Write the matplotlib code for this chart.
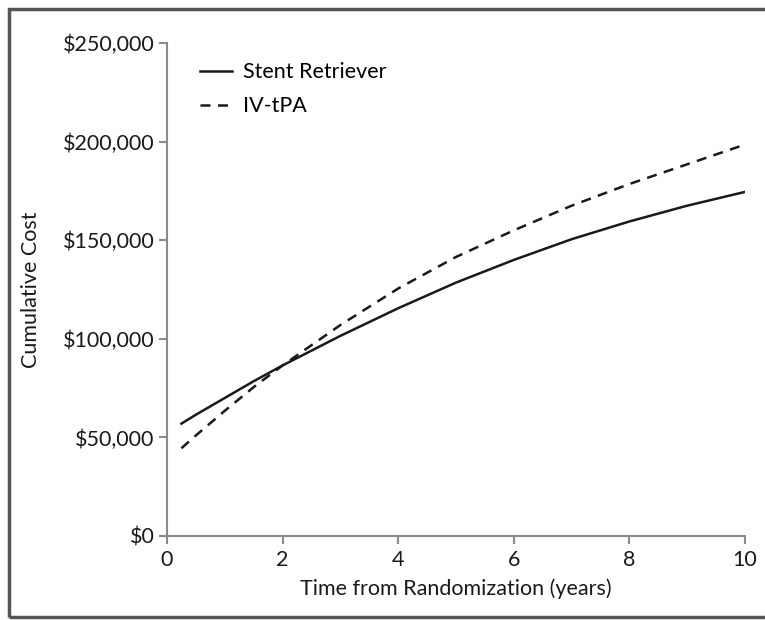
import numpy as np
import matplotlib as mpl
mpl.use('Agg')
import matplotlib.pyplot as plt
from matplotlib.patches import Rectangle
from matplotlib.ticker import FuncFormatter

# data
years = [0.25, 0.5, 1, 1.5, 2, 3, 4, 5, 6, 7, 8, 9, 10]
stent_cost = [57000, 61500, 70000, 78500, 86500, 101500, 115500, 128500, 140000, 150500, 159500, 167500, 174500]
tpa_cost = [44500, 51000, 63500, 75500, 86500, 107000, 125500, 141500, 155000, 167500, 178500, 188500, 198500]

plt.rcParams['font.family'] = ['Lato', 'DejaVu Sans']
ftsize = 15.5

fig = plt.figure(figsize=(7.65, 6.2), dpi=100)
ax = fig.add_axes([167/765, 84/620, 578/765, 493/620])

ax.plot(years, stent_cost, '-', color='#1a1a1a', linewidth=1.8, label='Stent Retriever')
ax.plot(years, tpa_cost, '--', color='#1a1a1a', linewidth=1.8, dashes=(4, 3), label='IV-tPA')

ax.set_xlim(0, 10)
ax.set_ylim(0, 250000)
ax.set_xticks([0, 2, 4, 6, 8, 10])
ax.set_yticks([0, 50000, 100000, 150000, 200000, 250000])
ax.yaxis.set_major_formatter(FuncFormatter(lambda v, p: '${:,.0f}'.format(v)))

for side in ['top', 'right']:
    ax.spines[side].set_visible(False)
for side in ['left', 'bottom']:
    ax.spines[side].set_color('#8a8a8a')
    ax.spines[side].set_linewidth(1.5)
ax.tick_params(direction='out', length=6, width=1.5, color='#8a8a8a',
               labelsize=ftsize, labelcolor='#1a1a1a', pad=3)
ax.tick_params(axis='x', pad=4)

ax.set_xlabel('Time from Randomization (years)', fontsize=ftsize, color='#1a1a1a', labelpad=6)
ax.set_ylabel('Cumulative Cost', fontsize=ftsize, color='#1a1a1a', labelpad=16)

ax.legend(loc='upper left', bbox_to_anchor=(0.023, 1.0), fontsize=ftsize,
          frameon=False, handlelength=1.5, labelspacing=0.65, handletextpad=0.5)

# frame around the whole picture
fig.patches.append(Rectangle((9/765, 3/620), 760/765, 608/620, transform=fig.transFigure,
                             fill=False, edgecolor='#555555', linewidth=2.5))

plt.savefig('out.png', dpi=100)
